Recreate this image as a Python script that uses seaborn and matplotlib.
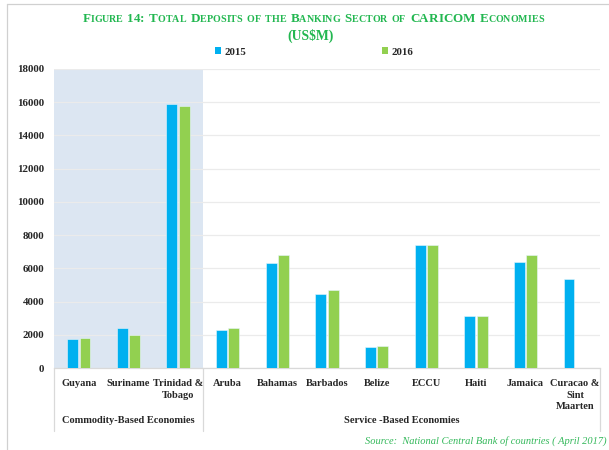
import matplotlib
matplotlib.use("Agg")
import matplotlib.pyplot as plt
from matplotlib.lines import Line2D
from matplotlib.patches import Patch
from matplotlib.offsetbox import TextArea, HPacker, AnchoredOffsetbox
import numpy as np
import pandas as pd
import seaborn as sns

# ---- data (US$ millions) ----
countries = ["Guyana", "Suriname", "Trinidad &\nTobago", "Aruba", "Bahamas",
             "Barbados", "Belize", "ECCU", "Haiti", "Jamaica",
             "Curacao &\nSint\nMaarten"]
deposits_2015 = [1750, 2400, 15920, 2280, 6340, 4480, 1280, 7420, 3160, 6360, 5360]
deposits_2016 = [1800, 2000, 15800, 2400, 6780, 4680, 1300, 7420, 3160, 6780, np.nan]
years = ["2015", "2016"]
groups = ["Commodity-Based Economies", "Service -Based Economies"]
group_sizes = [3, 8]
yticks = list(range(0, 18001, 2000))

BLUE = "#00B0F0"
GREEN = "#92D050"
TITLE_GREEN = "#22B750"
SERIF = "Liberation Serif"

df = pd.DataFrame({
    "country": countries * 2,
    "year": [years[0]] * len(countries) + [years[1]] * len(countries),
    "value": deposits_2015 + deposits_2016,
})

sns.set_theme(style="white")
plt.rcParams["font.family"] = [SERIF, "DejaVu Serif"]

fig = plt.figure(figsize=(6.09, 4.50), dpi=100)
ax = fig.add_axes([54 / 609, 1 - 368 / 450, (600 - 54) / 609, (368 - 69) / 450])

sns.barplot(data=df, x="country", y="value", hue="year", order=countries,
            hue_order=years, palette=[BLUE, GREEN], saturation=1, width=0.5,
            gap=0.12, legend=False, ax=ax, edgecolor="#E8F6FC", linewidth=0.4,
            zorder=3)

# shaded commodity group
ax.axvspan(-0.5, group_sizes[0] - 0.5, color="#DCE6F2", zorder=0, lw=0)

ax.set_xlim(-0.5, len(countries) - 0.5)
ax.set_ylim(0, 18000)
ax.set_yticks(yticks)
ax.set_yticklabels([str(t) for t in yticks], fontsize=7.8, fontweight="bold",
                   family=SERIF)
ax.set_xticks(range(len(countries)))
ax.set_xticklabels(countries, fontsize=7.5, fontweight="bold", family=SERIF,
                   linespacing=1.35, va="top")
ax.tick_params(axis="both", length=0)
ax.tick_params(axis="x", pad=8)
ax.tick_params(axis="y", pad=7)
ax.set_xlabel("")
ax.set_ylabel("")
ax.yaxis.grid(True, color="#EBEBEB", lw=0.9, zorder=1)
ax.xaxis.grid(False)
ax.set_axisbelow(True)
for s in ["left", "right", "top"]:
    ax.spines[s].set_visible(False)
ax.spines["bottom"].set_color("#D9D9D9")
ax.spines["bottom"].set_linewidth(0.9)

# group separators and labels beneath the axis
tr = ax.get_xaxis_transform()
bounds = np.cumsum([0] + group_sizes) - 0.5
for b in bounds:
    ax.plot([b, b], [0, -0.21], transform=tr, color="#D9D9D9", lw=0.9,
            clip_on=False)
for i, g in enumerate(groups):
    c = (bounds[i] + bounds[i + 1]) / 2
    ax.text(c, -0.175, g, transform=tr, ha="center", va="center",
            fontsize=7.5, fontweight="bold", family=SERIF)


# small-caps title built from pieces
def small_caps_word(word, big, small, color):
    parts = []
    for ch in word:
        if ch.islower():
            parts.append(TextArea(ch.upper(), textprops=dict(
                fontsize=small, fontweight="bold", color=color, family=SERIF)))
        else:
            parts.append(TextArea(ch, textprops=dict(
                fontsize=big, fontweight="bold", color=color, family=SERIF)))
    return HPacker(children=parts, align="baseline", pad=0, sep=0)


title_words = "Figure 14: Total Deposits of the Banking Sector of CARICOM Economies".split()
line1 = HPacker(children=[small_caps_word(w, 9.4, 7.2, TITLE_GREEN) for w in title_words],
                align="baseline", pad=0, sep=3.2)
ab1 = AnchoredOffsetbox(loc="center", child=line1, pad=0, borderpad=0,
                        bbox_to_anchor=(313 / 609, 1 - 19 / 450),
                        bbox_transform=fig.transFigure, frameon=False)
fig.add_artist(ab1)
fig.text(311 / 609, 1 - 36 / 450, "(US$M)", ha="center", va="center",
         fontsize=9.8, fontweight="bold", color=TITLE_GREEN, family=SERIF)

# legend
handles = [Patch(facecolor=BLUE, edgecolor="none"), Patch(facecolor=GREEN, edgecolor="none")]
fig.legend(handles, years, ncol=2, loc="center", bbox_to_anchor=(314 / 609, 1 - 52 / 450),
           frameon=False, handlelength=0.6, handleheight=0.6, handletextpad=0.3,
           columnspacing=12.5, prop=dict(family=SERIF, weight="bold", size=7.8))

# source note
fig.text(607 / 609, 1 - 441 / 450, "Source:  National Central Bank of countries ( April 2017)",
         ha="right", va="center", fontsize=7.5, style="italic", color="#33B85A",
         family=SERIF)

# page frame
fig.add_artist(Line2D([7 / 609, 7 / 609], [0, 1 - 4 / 450], transform=fig.transFigure,
                      color="#D0D0D0", lw=0.9))
fig.add_artist(Line2D([7 / 609, 1], [1 - 4 / 450, 1 - 4 / 450], transform=fig.transFigure,
                      color="#D0D0D0", lw=0.9))

fig.savefig("out.png", dpi=100)
